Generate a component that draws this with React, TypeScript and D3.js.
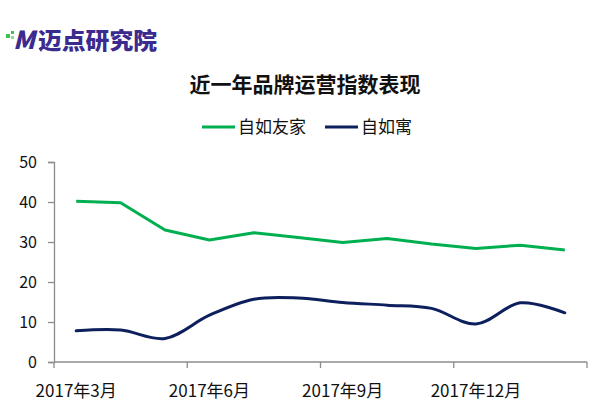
import { useEffect, useRef } from "react";
import * as d3 from "d3";

// monthly brand index, Mar 2017 – Feb 2018
const months = [
  "2017年3月", "2017年4月", "2017年5月", "2017年6月", "2017年7月", "2017年8月",
  "2017年9月", "2017年10月", "2017年11月", "2017年12月", "2018年1月", "2018年2月",
];
const youjia = [40.2, 39.8, 33.0, 30.5, 32.3, 31.1, 29.9, 30.9, 29.5, 28.4, 29.2, 28.0];
const yu = [7.8, 8.0, 5.9, 11.7, 15.7, 16.0, 14.9, 14.2, 13.4, 9.5, 14.8, 12.3];
const yTicks = [0, 10, 20, 30, 40, 50];
const labelIdx = [0, 3, 6, 9];

const W = 600;
const H = 410;
const M = { top: 162, right: 13, bottom: 48, left: 54 };
const FONT = "'Noto Sans CJK SC', 'Noto Sans', sans-serif";
const GREEN = "#00b050";
const NAVY = "#0d1f5c";
const AXIS = "#8c8c8c";

export default function App() {
  const svgRef = useRef<SVGGElement>(null);

  useEffect(() => {
    const svg = d3.select(svgRef.current!);
    svg.selectAll("*").remove();

    const x = d3.scaleBand<string>().domain(months).range([M.left, W - M.right]).padding(0);
    const y = d3.scaleLinear().domain([0, 50]).range([H - M.bottom, M.top]);
    const cx = (m: string) => x(m)! + x.bandwidth() / 2;

    // y axis
    const yAxis = svg
      .append("g")
      .attr("transform", `translate(${M.left},0)`)
      .call(d3.axisLeft(y).tickValues(yTicks).tickSize(6).tickPadding(11));
    yAxis.select(".domain").attr("stroke", AXIS).attr("stroke-width", 1.3);
    yAxis.selectAll(".tick line").attr("stroke", AXIS).attr("stroke-width", 1.3);
    yAxis
      .selectAll(".tick text")
      .attr("fill", "#111")
      .style("font-family", FONT)
      .style("font-size", "16px");

    // x axis: line, tick marks at every third band boundary, labels centred on bands
    const y0 = y(0);
    svg
      .append("line")
      .attr("x1", M.left)
      .attr("x2", W - M.right)
      .attr("y1", y0)
      .attr("y2", y0)
      .attr("stroke", AXIS)
      .attr("stroke-width", 1.3);
    const bounds = [...labelIdx.map((i) => x(months[i])!), x.range()[1]];
    svg
      .append("g")
      .selectAll("line")
      .data(bounds)
      .join("line")
      .attr("x1", (d) => d)
      .attr("x2", (d) => d)
      .attr("y1", y0)
      .attr("y2", y0 + 6)
      .attr("stroke", AXIS)
      .attr("stroke-width", 1.3);
    svg
      .append("g")
      .selectAll("text")
      .data(labelIdx.map((i) => months[i]))
      .join("text")
      .attr("x", (d) => cx(d))
      .attr("y", y0 + 35)
      .attr("text-anchor", "middle")
      .attr("fill", "#111")
      .style("font-family", FONT)
      .style("font-size", "17px")
      .text((d) => d);

    // series
    const line = d3
      .line<number>()
      .x((_, i) => cx(months[i]))
      .y((d) => y(d));
    svg
      .append("path")
      .datum(youjia)
      .attr("d", line.curve(d3.curveLinear))
      .attr("fill", "none")
      .attr("stroke", GREEN)
      .attr("stroke-width", 3)
      .attr("stroke-linejoin", "round");
    svg
      .append("path")
      .datum(yu)
      .attr("d", line.curve(d3.curveCatmullRom.alpha(0.5)))
      .attr("fill", "none")
      .attr("stroke", NAVY)
      .attr("stroke-width", 3)
      .attr("stroke-linecap", "round");
  }, []);

  return (
    <svg
      width={W}
      height={H}
      style={{ position: "absolute", left: 0, top: 0, background: "#fff" }}
    >
      {/* logo */}
      <g>
        <rect x={6} y={34} width={4} height={4} fill="#3fbf4f" />
        <rect x={11} y={31} width={3} height={3} fill="#3fbf4f" />
        <rect x={11} y={36} width={3} height={3} fill="#8bd98f" />
        <text
          x={13}
          y={49}
          fill="#3b2b8f"
          fontFamily={FONT}
          fontWeight={900}
          fontStyle="italic"
          fontSize={25}
          textLength={22}
          lengthAdjust="spacingAndGlyphs"
        >
          M
        </text>
        <text
          x={38}
          y={49}
          fill="#3b2b8f"
          fontFamily={FONT}
          fontWeight={900}
          fontSize={23}
          textLength={119}
          lengthAdjust="spacingAndGlyphs"
        >
          迈<tspan fill="#3b2b8f">点</tspan>研究院
        </text>
      </g>
      <g ref={svgRef} />
      <text
        x={305}
        y={92}
        textAnchor="middle"
        fontFamily={FONT}
        fontWeight={700}
        fontSize={21}
        fill="#111"
      >
        近一年品牌运营指数表现
      </text>
      {/* legend */}
      <line x1={202} x2={235} y1={127} y2={127} stroke={GREEN} strokeWidth={3} />
      <text x={238} y={133} fontFamily={FONT} fontSize={17} fill="#111">
        自如友家
      </text>
      <line x1={325} x2={358} y1={127} y2={127} stroke={NAVY} strokeWidth={3} />
      <text x={361} y={133} fontFamily={FONT} fontSize={17} fill="#111">
        自如寓
      </text>
    </svg>
  );
}
